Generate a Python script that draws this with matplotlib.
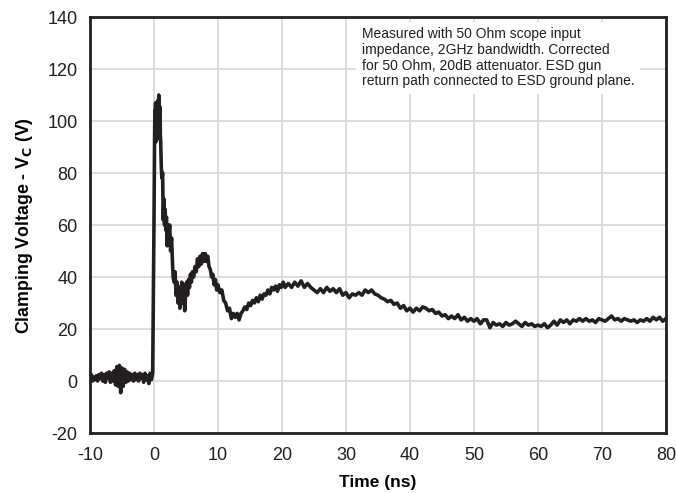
import matplotlib
matplotlib.use("Agg")
import matplotlib.pyplot as plt

plt.rcParams['font.family'] = ['Liberation Sans', 'DejaVu Sans']
plt.rcParams['axes.unicode_minus'] = False

# Waveform (time in ns, clamping voltage in V)
time_ns = [
    -10, -9.8, -9.6, -9.4, -9.2, -9.0, -8.8, -8.6, -8.4, -8.2, -8.0, -7.8,
    -7.6, -7.4, -7.2, -7.0, -6.8, -6.6, -6.4, -6.2, -6.0, -5.8, -5.6, -5.4,
    -5.2, -5.0, -4.8, -4.6, -4.4, -4.2, -4.0, -3.8, -3.6, -3.4, -3.2, -3.0,
    -2.8, -2.6, -2.4, -2.2, -2.0, -1.8, -1.6, -1.4, -1.2, -1.0, -0.8, -0.6,
    -0.4, -0.2,
    0.0, 0.1, 0.15, 0.2, 0.25, 0.3, 0.35, 0.4, 0.45, 0.5, 0.55, 0.6, 0.65,
    0.7, 0.75, 0.8, 0.85, 0.9, 0.95, 1.0, 1.05, 1.15, 1.25,
    1.35, 1.45, 1.55, 1.65, 1.75, 1.85, 1.95, 2.05, 2.15, 2.3, 2.45, 2.6, 2.75,
    2.9, 3.0, 3.15, 3.3, 3.45, 3.6, 3.75, 3.9, 4.05, 4.2, 4.35, 4.5, 4.65, 4.8,
    4.95, 5.1, 5.25, 5.4, 5.55, 5.7, 5.85, 6.0, 6.2, 6.4, 6.6, 6.8, 7.0, 7.2,
    7.4, 7.6, 7.8, 8.0, 8.2, 8.4, 8.6, 8.8, 9.0, 9.2, 9.4, 9.6, 9.8, 10.0, 10.3,
    10.6, 10.9, 11.2, 11.5, 11.8, 12.1, 12.4, 12.7, 13.0, 13.3, 13.6, 13.9, 14.2,
    14.5, 14.8, 15.1, 15.4, 15.7, 16.0, 16.3, 16.6, 16.9, 17.2, 17.5, 17.8, 18.1,
    18.4, 18.7, 19.0, 19.3, 19.6, 19.9, 20.2, 20.5, 21.0, 21.5, 22.0, 22.5, 23.0,
    23.5, 24.0, 24.5, 25.0, 25.5, 26.0, 26.5, 27.0, 27.5, 28.0, 28.5, 29.0, 29.5,
    30.0, 30.5, 31.0, 31.5, 32.0, 32.5, 33.0, 33.5, 34.0, 34.5, 35.0, 35.5, 36.0,
    36.5, 37.0, 37.5, 38.0, 38.5, 39.0, 39.5, 40.0, 40.5, 41.0, 41.5, 42.0, 42.5,
    43.0, 43.5, 44.0, 44.5, 45.0, 45.5, 46.0, 46.5, 47.0, 47.5, 48.0, 48.5, 49.0,
    49.5, 50.0, 50.5, 51.0, 51.5, 52.0, 52.5, 53.0, 53.5, 54.0, 54.5, 55.0, 55.5,
    56.0, 56.5, 57.0, 57.5, 58.0, 58.5, 59.0, 59.5, 60.0, 60.5, 61.0, 61.5, 62.0,
    62.5, 63.0, 63.5, 64.0, 64.5, 65.0, 65.5, 66.0, 66.5, 67.0, 67.5, 68.0, 68.5,
    69.0, 69.5, 70.0, 70.5, 71.0, 71.5, 72.0, 72.5, 73.0, 73.5, 74.0, 74.5, 75.0,
    75.5, 76.0, 76.5, 77.0, 77.5, 78.0, 78.5, 79.0, 79.5, 80.0,
]
clamp_v = [
    1.0, 2.5, 0.0, 1.5, 0.5, 2.0, 0.0, 2.5, 1.0, 3.0, 0.0, 2.5,
    -0.5, 3.0, 1.0, 3.5, -0.5, 3.0, 0.0, 4.0, -1.5, 5.5, -2.0, 6.0,
    -4.5, 5.0, -2.0, 4.5, -0.5, 3.5, 0.0, 3.0, 0.5, 2.5, 0.0, 3.0,
    0.5, 2.5, 0.0, 3.0, 1.0, 2.5, -0.5, 3.0, 0.5, 2.0, -1.0, 3.0,
    0.5, 3.0,
    60, 95, 104, 93, 107, 92, 105, 94, 106, 93, 104, 95, 108,
    97, 110, 98, 106, 96, 105, 94, 92, 82, 78,
    80, 62, 70, 60, 66, 58, 63, 52, 60, 55, 60, 50, 55,
    45, 40, 38, 42, 33, 38, 30, 36, 28, 35, 38, 30, 37, 27,
    34, 38, 33, 39, 36, 41, 38, 42, 40, 44, 42, 47, 44, 48,
    45, 49, 46, 49, 46, 48, 44, 43, 40, 41, 37, 39, 35, 37, 34,
    35, 31, 30, 27, 28, 24, 26, 24.5, 26, 23.5, 26, 27, 28.5,
    27.5, 30, 29, 31, 30, 32, 30.5, 33, 31.5, 33.5, 33, 35, 33.5,
    36, 35, 36.5, 34.5, 37, 36, 38, 36, 37.5, 36, 38, 36.5, 38.5,
    36, 37.5, 36, 35, 34, 35.5, 34, 36, 34.5, 35.5, 34, 35.5, 33,
    34, 32, 33.5, 33, 34, 33, 35, 34, 35, 33.5, 33, 32, 31.5,
    30.5, 31, 29.5, 30, 28, 29, 27, 28, 26.5, 28, 27, 28.5, 28,
    27, 27.5, 26, 26.5, 25, 25.5, 24, 25, 24, 25.5, 23.5, 24.5, 23,
    24, 23, 24, 22, 23.5, 23.5, 20.5, 22.5, 21.5, 22, 21, 22.5, 21.5,
    22, 23, 22, 21, 22.5, 21.5, 22, 21, 21.5, 21, 22, 20.5, 21.5,
    23, 21.5, 23.5, 22.5, 23.5, 22, 23.5, 23, 24, 23, 24, 23, 23.5,
    22.5, 24, 23.5, 23, 24, 25, 23.5, 24, 23, 24, 23.5, 23, 23.5,
    22.5, 23.5, 23, 24, 23, 24.5, 23.5, 24.5, 23, 24,
]

x_ticks = [-10, 0, 10, 20, 30, 40, 50, 60, 70, 80]
y_ticks = [-20, 0, 20, 40, 60, 80, 100, 120, 140]

note = ("Measured with 50 Ohm scope input\n"
        "impedance, 2GHz bandwidth. Corrected\n"
        "for 50 Ohm, 20dB attenuator. ESD gun\n"
        "return path connected to ESD ground plane.")

fig = plt.figure(figsize=(6.76, 4.93), dpi=100)
ax = fig.add_axes([0.1331, 0.1217, 0.852, 0.8438])

ax.plot(time_ns, clamp_v, color="#231f20", linewidth=2.6, zorder=3)

ax.set_xlim(-10, 80)
ax.set_ylim(-20, 140)
ax.set_xticks(x_ticks)
ax.set_yticks(y_ticks)
ax.grid(True, color="#d9d9d9", linewidth=1.3, zorder=0)
ax.set_axisbelow(True)
ax.tick_params(length=0, colors="#231f20", labelsize=13)
ax.tick_params(axis="x", pad=10)
ax.tick_params(axis="y", pad=9)

for s in ax.spines.values():
    s.set_linewidth(2.0)
    s.set_color("#231f20")

ax.set_xlabel("Time (ns)", fontsize=12.5, fontweight="bold", labelpad=8)
ax.set_ylabel(r"Clamping Voltage - V$_\mathbf{C}$ (V)", fontsize=12.8,
              fontweight="bold", labelpad=9)

ax.text(0.472, 0.975, note, transform=ax.transAxes, fontsize=10,
        va="top", ha="left", linespacing=1.15, color="#231f20", zorder=4,
        bbox=dict(facecolor="white", edgecolor="none", pad=4))

fig.savefig("out.png", dpi=100)
